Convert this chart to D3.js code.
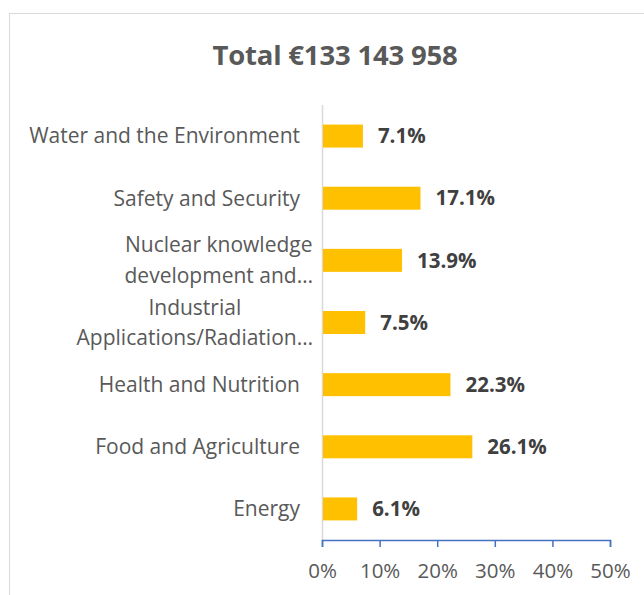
<!DOCTYPE html>
<html>
<head>
<meta charset="utf-8">
<title>Total</title>
<script src="https://d3js.org/d3.v7.min.js"></script>
<style>
  body { margin: 0; background: #fff; }
  svg text { font-family: "Open Sans", "Noto Sans", sans-serif; }
</style>
</head>
<body>
<svg id="chart" width="644" height="595"></svg>
<script>
// data, top to bottom as in the reference
var categories = [
  ['Water and the Environment'],
  ['Safety and Security'],
  ['Nuclear knowledge', 'development and\u2026'],
  ['Industrial', 'Applications/Radiation\u2026'],
  ['Health and Nutrition'],
  ['Food and Agriculture'],
  ['Energy']
];
var shares = [7.1, 17.1, 13.9, 7.5, 22.3, 26.1, 6.1];
var tickValues = [0, 10, 20, 30, 40, 50];
var title = 'Total \u20ac133 143 958';

var svg = d3.select('#chart');

// chart frame
svg.append('rect')
  .attr('x', 9.5).attr('y', 13.5)
  .attr('width', 700).attr('height', 700)
  .attr('fill', 'none')
  .attr('stroke', '#d9d9d9');

var margin = {left: 322, right: 34, top: 105, bottom: 55};
var width = 644 - margin.left - margin.right;
var height = 595 - margin.top - margin.bottom;

var g = svg.append('g')
  .attr('transform', 'translate(' + margin.left + ',' + margin.top + ')');

var x = d3.scaleLinear().domain([0, 50]).range([0, width]);
var y = d3.scaleBand()
  .domain(d3.range(categories.length))
  .range([0, height])
  .paddingInner(0.63)
  .paddingOuter(0.315);

// title
svg.append('text')
  .attr('x', 335).attr('y', 65)
  .attr('text-anchor', 'middle')
  .attr('fill', '#595959')
  .attr('font-size', 27.5)
  .attr('font-weight', 'bold')
  .attr('letter-spacing', -0.2)
  .text(title);

// vertical category axis line
g.append('line')
  .attr('x1', 0.5).attr('x2', 0.5)
  .attr('y1', 0).attr('y2', height)
  .attr('stroke', '#d9d9d9')
  .attr('stroke-width', 1.5);

// bars
g.selectAll('rect.bar')
  .data(shares)
  .enter().append('rect')
  .attr('class', 'bar')
  .attr('x', 1)
  .attr('y', (d, i) => y(i))
  .attr('width', d => x(d) - 1)
  .attr('height', y.bandwidth())
  .attr('fill', '#ffc000');

// value labels
g.selectAll('text.val')
  .data(shares)
  .enter().append('text')
  .attr('class', 'val')
  .attr('x', d => x(d) + 15)
  .attr('y', (d, i) => y(i) + y.bandwidth() / 2)
  .attr('dy', '0.35em')
  .attr('fill', '#404040')
  .attr('font-size', 20.5)
  .attr('font-weight', 'bold')
  .text(d => d.toFixed(1) + '%');

// category labels: single lines right aligned, wrapped ones centred
var lineH = 30.5;
g.selectAll('text.cat')
  .data(categories)
  .enter().append('text')
  .attr('class', 'cat')
  .attr('fill', '#595959')
  .attr('font-size', 21)
  .each(function (lines, i) {
    var t = d3.select(this);
    var cy = y(i) + y.bandwidth() / 2;
    var spans = lines.map(function (s, k) {
      return t.append('tspan')
        .attr('y', cy + (k - (lines.length - 1) / 2) * lineH)
        .attr('dy', '0.35em')
        .text(s);
    });
    if (lines.length === 1) {
      t.attr('text-anchor', 'end');
      spans[0].attr('x', -22);
    } else {
      var w = d3.max(spans, s => s.node().getComputedTextLength());
      t.attr('text-anchor', 'middle');
      spans.forEach(s => s.attr('x', -9 - w / 2));
    }
  });

// x axis
var xAxis = g.append('g')
  .attr('transform', 'translate(0,' + height + ')')
  .call(d3.axisBottom(x).tickValues(tickValues).tickSize(7).tickFormat(d => d + '%'));
xAxis.select('.domain').attr('stroke', '#4472c4').attr('stroke-width', 1.5)
  .attr('d', 'M0.5,7V0.5H' + (width + 0.5) + 'V7');
xAxis.selectAll('.tick line').attr('stroke', '#4472c4').attr('stroke-width', 1.5);
xAxis.selectAll('.tick text')
  .attr('fill', '#595959')
  .attr('font-size', 20.5)
  .attr('font-family', '"Open Sans", sans-serif')
  .attr('y', 23);
</script>
</body>
</html>
